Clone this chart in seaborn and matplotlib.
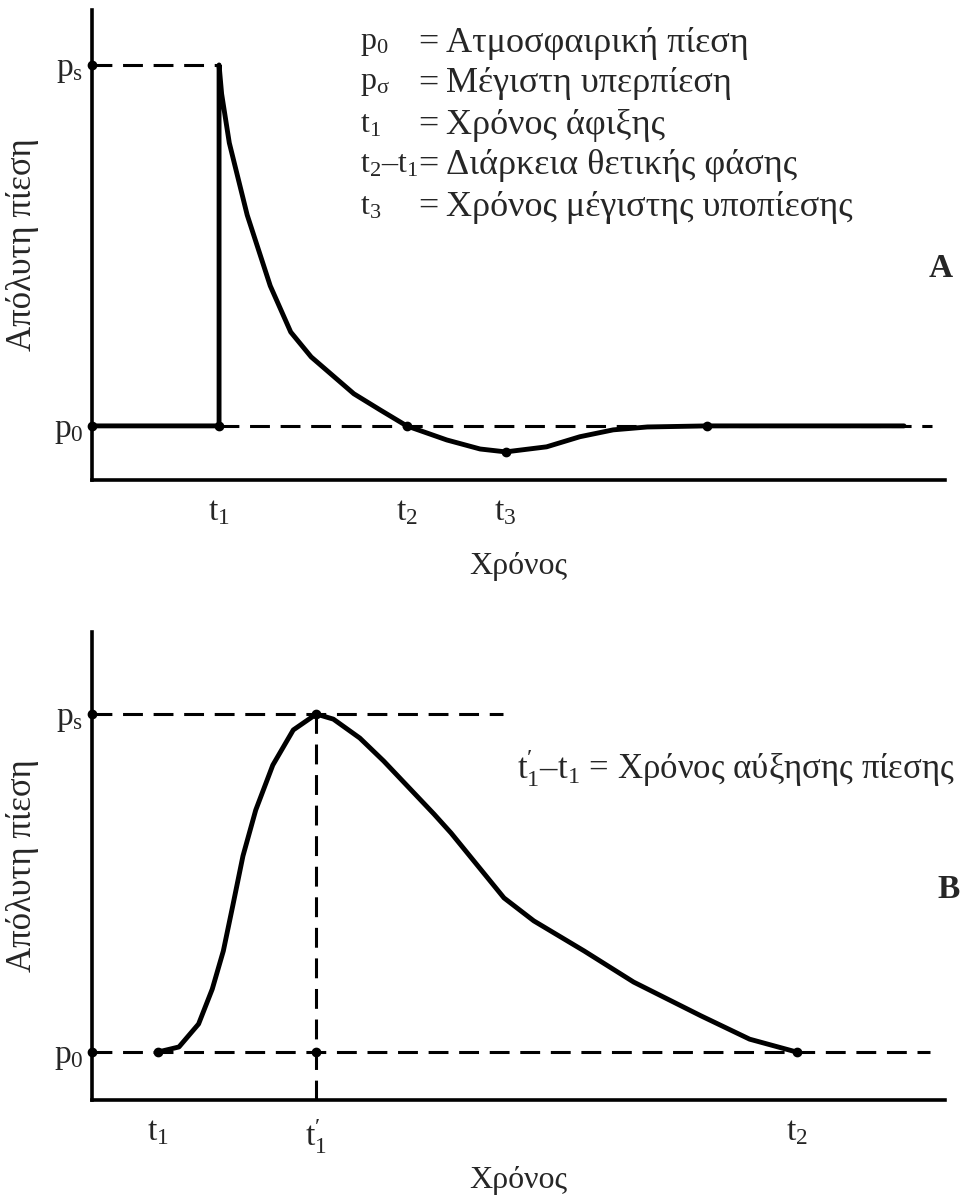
import matplotlib
matplotlib.use("Agg")
import matplotlib.pyplot as plt
import seaborn as sns
import pandas as pd

# pressure is scaled so that p0 = 0 and ps = 1, time in arbitrary units
P0 = 0.0
PS = 1.0

# panel A - free-field blast wave
time_a = [0.0, 1.49, 1.49, 1.52, 1.61, 1.82, 2.09, 2.33, 2.57, 3.07, 3.38, 3.69,
          4.16, 4.55, 4.85, 5.33, 5.72, 6.11, 6.51, 7.21, 9.52]
press_a = [0.0, 0.0, 1.0, 0.92, 0.784, 0.584, 0.388, 0.260, 0.191, 0.089, 0.044, 0.0,
           -0.039, -0.064, -0.072, -0.058, -0.030, -0.011, -0.003, 0.0, 0.0]
dots_a_t = [1.49, 3.69, 4.85, 7.21]
dots_a_p = [0.0, 0.0, -0.072, 0.0]
ticks_a = [1.49, 3.69, 4.85]
ticklabels_a = [r"$\mathrm{t_1}$", r"$\mathrm{t_2}$", r"$\mathrm{t_3}$"]
ps_dash_a = [0.0, 1.49]
p0_dash_a = [1.49, 9.85]

# panel B - pressure wave with rise time
time_b = [0.774, 1.02, 1.25, 1.41, 1.54, 1.65, 1.77, 1.92, 2.12, 2.36, 2.63, 2.83,
          3.14, 3.42, 4.01, 4.21, 4.83, 5.18, 5.77, 6.35, 7.14, 7.71, 8.26]
press_b = [0.0, 0.015, 0.083, 0.186, 0.299, 0.432, 0.580, 0.716, 0.849, 0.953, 1.0, 0.985,
           0.929, 0.861, 0.704, 0.648, 0.456, 0.388, 0.299, 0.207, 0.107, 0.038, 0.0]
dots_b_t = [0.774, 2.63, 2.63, 8.26]
dots_b_p = [0.0, 1.0, 0.0, 0.0]
ticks_b = [0.774, 2.63, 8.26]
ticklabels_b = [r"$\mathrm{t_1}$", r"$\mathrm{t}_1^{\prime}$", r"$\mathrm{t_2}$"]
ps_dash_b = [0.0, 4.82]
p0_dash_b = [0.0, 9.82]

legend_syms = [r"$\mathrm{p_0}$", r"$\mathrm{p_σ}$", r"$\mathrm{t_1}$",
               r"$\mathrm{t_2}$–$\mathrm{t_1}$", r"$\mathrm{t_3}$"]
legend_text = ["Ατμοσφαιρική πίεση", "Μέγιστη υπερπίεση", "Χρόνος άφιξης",
               "Διάρκεια θετικής φάσης", "Χρόνος μέγιστης υποπίεσης"]

sns.set_theme(style="white")
plt.rcParams["font.family"] = ["Liberation Serif", "DejaVu Serif"]
plt.rcParams["mathtext.fontset"] = "custom"
plt.rcParams["mathtext.rm"] = "Liberation Serif"
plt.rcParams["mathtext.it"] = "Liberation Serif:italic"

FS = 23
LW = 3.5
DASH = dict(color="black", lw=2.2, dashes=(6.5, 3.5))

fig = plt.figure(figsize=(9.62, 11.98), dpi=100)
ax_a = fig.add_axes([0.0956, 0.5993, 0.8867, 0.3923])
ax_b = fig.add_axes([0.0956, 0.0818, 0.8867, 0.3907])


def style_axes(ax, ylim, xticks, xlabels, xlab_y):
    ax.set_xlim(0, 10)
    ax.set_ylim(*ylim)
    sns.despine(ax=ax)
    for s in ["left", "bottom"]:
        ax.spines[s].set_linewidth(2.6)
        ax.spines[s].set_color("black")
    ax.set_xticks(xticks)
    ax.set_xticklabels(xlabels, fontsize=24)
    ax.set_yticks([P0, PS])
    ax.set_yticklabels([r"$\mathrm{p_0}$", r"$\mathrm{p_s}$"], fontsize=24)
    ax.tick_params(length=0, pad=12)
    ax.tick_params(axis="y", pad=6)
    ax.set_xlabel("Χρόνος", fontsize=FS, va="center")
    ax.set_ylabel("Απόλυτη πίεση", fontsize=25, va="center")
    ax.xaxis.set_label_coords(0.5, xlab_y)
    ax.yaxis.set_label_coords(-0.082, 0.53)
    # dots on the pressure axis
    ax.plot([0, 0], [P0, PS], "o", color="black", ms=6, clip_on=False, zorder=5)


# ---- panel A
style_axes(ax_a, (-0.15, 1.152), ticks_a, ticklabels_a, -0.183)
ax_a.plot(ps_dash_a, [PS, PS], **DASH)
ax_a.plot(p0_dash_a, [P0, P0], **DASH)
df_a = pd.DataFrame({"t": time_a, "p": press_a})
sns.lineplot(data=df_a, x="t", y="p", sort=False, estimator=None, color="black",
             lw=LW, ax=ax_a)
ax_a.plot(dots_a_t, dots_a_p, "o", color="black", ms=6, zorder=5)
ax_a.set_xlabel("Χρόνος", fontsize=FS, va="center")
ax_a.set_ylabel("Απόλυτη πίεση", fontsize=25, va="center")
ax_a.text(0.995, 0.45, "A", transform=ax_a.transAxes, fontsize=24,
          fontweight="bold", ha="center", va="center")

y_rows = [43, 84, 125, 165, 207]
for yy, sym, txt in zip(y_rows, legend_syms, legend_text):
    fig.text(360 / 962, 1 - yy / 1198, sym, fontsize=23, va="center", ha="left")
    fig.text(418 / 962, 1 - yy / 1198, "=", fontsize=26, va="center", ha="left")
    fig.text(446 / 962, 1 - yy / 1198, txt, fontsize=26, va="center", ha="left")

# ---- panel B
style_axes(ax_b, (-0.142, 1.243), ticks_b, ticklabels_b, -0.171)
ax_b.plot(ps_dash_b, [PS, PS], **DASH)
ax_b.plot(p0_dash_b, [P0, P0], **DASH)
ax_b.plot([ticks_b[1], ticks_b[1]], [-0.142, PS], **DASH)
df_b = pd.DataFrame({"t": time_b, "p": press_b})
sns.lineplot(data=df_b, x="t", y="p", sort=False, estimator=None, color="black",
             lw=LW, ax=ax_b)
ax_b.plot(dots_b_t, dots_b_p, "o", color="black", ms=6, zorder=5)
ax_b.set_xlabel("Χρόνος", fontsize=FS, va="center")
ax_b.set_ylabel("Απόλυτη πίεση", fontsize=25, va="center")
ax_b.text(1.004, 0.45, "B", transform=ax_b.transAxes, fontsize=24,
          fontweight="bold", ha="center", va="center")
fig.text(955 / 962, 1 - 768 / 1198,
         r"$\mathrm{t}_1^{\prime}$–$\mathrm{t_1}$ = Χρόνος αύξησης πίεσης",
         fontsize=25, va="center", ha="right")

fig.savefig("out.png", dpi=100)
